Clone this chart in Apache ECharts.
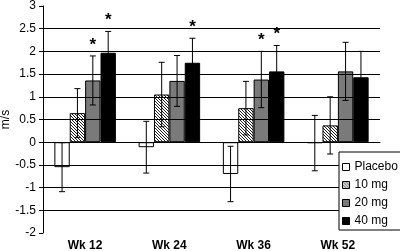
<!DOCTYPE html>
<html>
    <head>
        <meta charset="utf-8">
        <script src="https://cdn.jsdelivr.net/npm/echarts@6.0.0/dist/echarts.min.js"></script>
    </head>
    <body style="margin:0">
        <style>
            #main {
                width: 400px;
                height: 251px;
            }
        </style>
        <div id="main"></div>
        <script>

            var categories = ['Wk 12', 'Wk 24', 'Wk 36', 'Wk 52'];
            var seriesNames = ['Placebo', '10 mg', '20 mg', '40 mg'];

            var placebo = [-0.55, -0.11, -0.70, -0.02];
            var placeboErr = [0.54, 0.57, 0.61, 0.61];
            var mg10 = [0.64, 1.05, 0.75, 0.37];
            var mg10Err = [0.54, 0.71, 0.59, 0.63];
            var mg20 = [1.36, 1.35, 1.38, 1.56];
            var mg20Err = [0.54, 0.56, 0.62, 0.64];
            var mg40 = [1.97, 1.75, 1.56, 1.43];
            var mg40Err = [0.47, 0.54, 0.57, 0.57];

            // 1 = asterisk above the error bar
            var placeboSig = [0, 0, 0, 0];
            var mg10Sig = [0, 0, 0, 0];
            var mg20Sig = [1, 0, 1, 0];
            var mg40Sig = [1, 1, 1, 0];

            var yTicks = [-2, -1.5, -1, -0.5, 0, 0.5, 1, 1.5, 2, 2.5, 3];

            var font = 'Liberation Sans, Arial, sans-serif';
            var catGap = 0.27;

            // hatch for the 10 mg bars
            var hatch = document.createElement('canvas');
            hatch.width = 3;
            hatch.height = 3;
            var hctx = hatch.getContext('2d');
            hctx.fillStyle = '#fff';
            hctx.fillRect(0, 0, 3, 3);
            hctx.fillStyle = '#222';
            for (var k = 0; k < 3; k++) {
                hctx.fillRect(k, k, 1, 1);
            }

            var values = [placebo, mg10, mg20, mg40];
            var errs = [placeboErr, mg10Err, mg20Err, mg40Err];
            var sigs = [placeboSig, mg10Sig, mg20Sig, mg40Sig];
            var fills = ['#fff', {image: hatch, repeat: 'repeat'}, '#7a7a7a', '#000'];

            var errData = [];
            for (var g = 0; g < values.length; g++) {
                for (var i = 0; i < categories.length; i++) {
                    errData.push([i, values[g][i], errs[g][i], g, sigs[g][i]]);
                }
            }

            // grid lines only between the ends of the axis
            var splitColors = yTicks.map(function (v, idx) {
                return (idx === 0 || idx === yTicks.length - 1) ? 'rgba(0,0,0,0)' : '#000';
            });

            var series = seriesNames.map(function (name, g) {
                return {
                    name: name,
                    type: 'bar',
                    barGap: '0%',
                    barCategoryGap: (catGap * 100) + '%',
                    data: values[g],
                    itemStyle: {
                        color: fills[g],
                        borderColor: '#000',
                        borderWidth: 1
                    }
                };
            });

            series.push({
                type: 'custom',
                z: 5,
                data: errData,
                encode: {x: 0, y: 1},
                renderItem: function (params, api) {
                    var ci = api.value(0);
                    var v = api.value(1);
                    var e = api.value(2);
                    var g = api.value(3);
                    var catW = api.size([1, 0])[0];
                    var bw = catW * (1 - catGap) / 4;
                    var x = api.coord([ci, v])[0] + (g - 1.5) * bw;
                    var top = api.coord([ci, v + e])[1];
                    var bot = api.coord([ci, v - e])[1];
                    var st = {stroke: '#000', lineWidth: 1};
                    var kids = [
                        {type: 'line', shape: {x1: x, y1: top, x2: x, y2: bot}, style: st},
                        {type: 'line', shape: {x1: x - 3, y1: top, x2: x + 3, y2: top}, style: st},
                        {type: 'line', shape: {x1: x - 3, y1: bot, x2: x + 3, y2: bot}, style: st}
                    ];
                    if (api.value(4)) {
                        kids.push({
                            type: 'text',
                            style: {
                                x: x, y: top - 11, text: '*',
                                font: 'bold 17px ' + font,
                                fill: '#000', align: 'center', verticalAlign: 'middle'
                            }
                        });
                    }
                    return {type: 'group', children: kids};
                }
            });

            var chart = echarts.init(document.getElementById('main'));

            var option = {
                animation: false,
                backgroundColor: '#fff',
                textStyle: {fontFamily: font},
                grid: {left: 43, right: 20, top: 6, bottom: 18, containLabel: false, outerBoundsMode: 'none'},
                legend: {
                    data: seriesNames,
                    orient: 'vertical',
                    left: 339,
                    top: 152,
                    width: 60,
                    padding: [9, 6, 3, 3],
                    itemGap: 6,
                    itemWidth: 7,
                    itemHeight: 7,
                    itemTextGap: 2,
                    icon: 'rect',
                    backgroundColor: '#fff',
                    borderColor: '#000',
                    borderWidth: 1,
                    itemStyle: {borderColor: '#000', borderWidth: 1},
                    textStyle: {fontSize: 12, color: '#000', fontFamily: font}
                },
                xAxis: [{
                    type: 'category',
                    data: categories,
                    position: 'bottom',
                    axisLine: {show: false, onZero: false},
                    axisTick: {show: false},
                    axisLabel: {
                        margin: 7,
                        fontSize: 12,
                        fontWeight: 'bold',
                        color: '#000',
                        fontFamily: font
                    }
                }, {
                    type: 'category',
                    data: categories,
                    position: 'bottom',
                    z: 3,
                    axisLine: {onZero: true, lineStyle: {color: '#000', width: 1}},
                    axisTick: {length: 3, lineStyle: {color: '#000'}},
                    axisLabel: {show: false}
                }],
                yAxis: {
                    type: 'value',
                    min: -2,
                    max: 3,
                    interval: 0.5,
                    z: 3,
                    name: 'm/s',
                    nameLocation: 'middle',
                    nameRotate: 90,
                    nameGap: 31,
                    nameMoveOverlap: false,
                    nameTextStyle: {fontSize: 12, color: '#000', fontFamily: font},
                    axisLine: {show: true, onZero: false, lineStyle: {color: '#000', width: 1}},
                    axisTick: {show: true, length: 4, lineStyle: {color: '#000'}},
                    axisLabel: {
                        margin: 7,
                        fontSize: 12,
                        color: '#000',
                        fontFamily: font,
                        formatter: function (v) { return String(v); }
                    },
                    splitLine: {show: true, lineStyle: {color: splitColors, width: 1}}
                },
                series: series
            };

            chart.setOption(option);

        </script>
    </body>
</html>
